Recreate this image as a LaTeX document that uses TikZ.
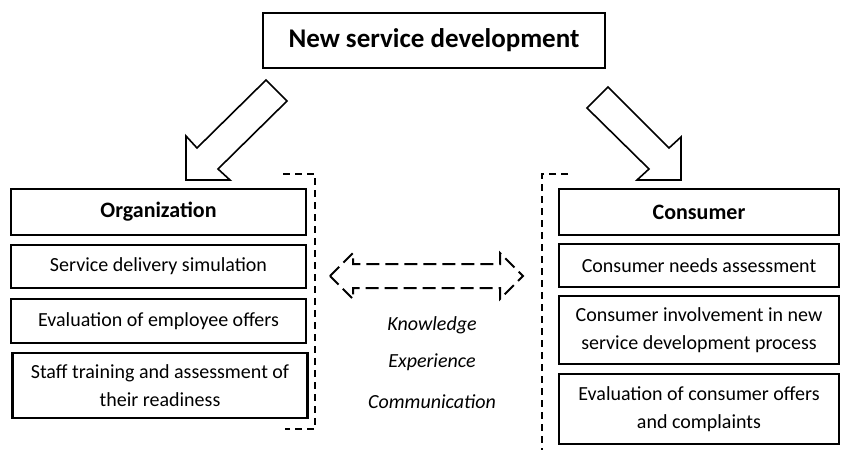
\documentclass[tikz,border=0pt]{standalone}
\usepackage{fontspec}
\setmainfont{Carlito}
\tikzset{
	box/.style={draw, line width=1.15pt, minimum width=147.5pt, inner sep=0pt, align=center, font=\fontsize{10}{13.8}\selectfont},
	headbox/.style={box, font=\fontsize{11}{13.8}\selectfont\bfseries},
	bigarrow/.style={draw, line width=0.8pt, line join=miter},
	bracket/.style={draw, line width=1pt, dash pattern=on 3.5pt off 2.5pt},
	flow/.style={draw, line width=1pt, dash pattern=on 6.5pt off 3pt},
	keyword/.style={font=\fontsize{10}{12}\selectfont\itshape}
}
\begin{document}
\begin{tikzpicture}[x=0.5pt, y=-0.5pt]
	% canvas: 841 x 450 px, y grows downwards
	\useasboundingbox (0,0) rectangle (841,450);
	% top
	\node[box, minimum width=171pt, minimum height=27.5pt, font=\fontsize{13.5}{16}\selectfont\bfseries] (title) at (434,40.5) {New service development};
	
	% left column
	\node[headbox, minimum height=23pt] (org) at (158.5,212) {Organization};
	\node[box, minimum height=21.5pt] (delivery) at (158.5,266.5) {Service delivery simulation};
	\node[box, minimum height=22pt] (offers) at (158.5,321) {Evaluation of employee offers};
	\node[box, minimum height=32.5pt] (training) at (160,385.5) {Staff training and assessment of\\their readiness};
	\draw[bracket] (283,174) -- (315,174) -- (315,429) -- (285,429);
	
	% right column
	\node[headbox, minimum width=140pt, minimum height=23pt] (cons) at (699,212) {Consumer};
	\node[box, minimum width=140pt, minimum height=21.5pt] (needs) at (699,265.5) {Consumer needs assessment};
	\node[box, minimum width=140pt, minimum height=34pt] (involve) at (699,330) {Consumer involvement in new\\service development process};
	\node[box, minimum width=140pt, minimum height=35pt] (complaints) at (699,409) {Evaluation of consumer offers\\and complaints};
	\draw[bracket] (568,174) -- (542,174) -- (542,450);
	
	% block arrows from the top box
	\draw[bigarrow] (266,80) -- (287,101) -- (218,169) -- (230,180) -- (186,180) -- (186,136) -- (197,148) -- cycle;
	\draw[bigarrow] (608,87) -- (669,148) -- (681,137) -- (681,180) -- (637,180) -- (649,169) -- (587,108) -- cycle;
	
	% exchange in the middle
	\draw[flow] (330,276) -- (353,253) -- (353,264) -- (500,264) -- (500,253) -- (523,276)
		-- (500,299) -- (500,288) -- (353,288) -- (353,299) -- cycle;
	\node[keyword] (knowledge) at (432,325) {Knowledge};
	\node[keyword] (experience) at (432,362) {Experience};
	\node[keyword] (communication) at (432,402) {Communication};
\end{tikzpicture}
\end{document}
